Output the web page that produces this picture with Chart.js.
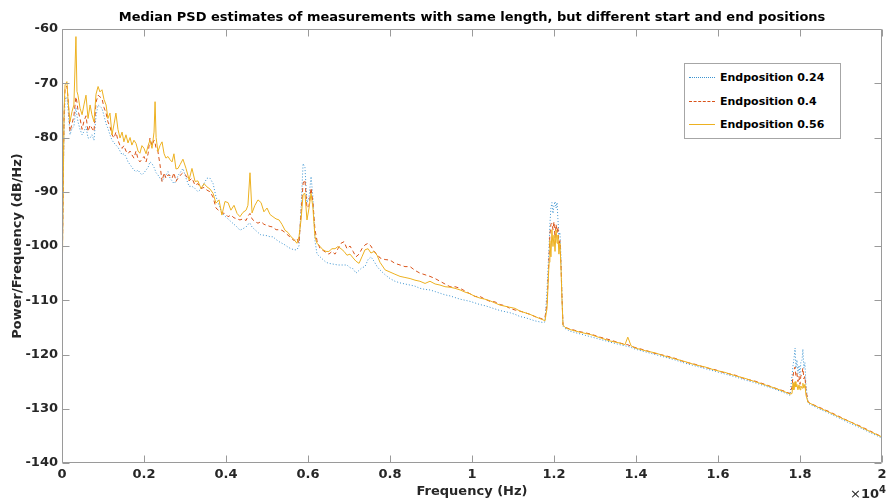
<!DOCTYPE html>
<html>
<head>
<meta charset="utf-8">
<script src="https://cdn.jsdelivr.net/npm/chart.js@4.4.1/dist/chart.umd.min.js"></script>
<style>
  html, body { margin: 0; padding: 0; background: #fff; }
  #wrap { position: relative; width: 888px; height: 504px; font-family: "DejaVu Sans", sans-serif; }
  #legend { position: absolute; left: 684px; top: 63px; width: 155px; height: 74px;
            border: 1px solid #a6a6a6; background: #fff; font-weight: bold; font-size: 11px; color: #000; }
  .row { position: absolute; left: 4px; height: 14px; display: flex; align-items: center; white-space: nowrap; }
  .smp { width: 26px; height: 0; margin-right: 5px; }
  #exp { position: absolute; left: 850px; top: 484px; font-size: 13px; color: #262626; }
  #exp b sup { font-size: 10px; }
</style>
</head>
<body>
<div id="wrap">
  <canvas id="grafico" width="888" height="504"></canvas>
  <div id="legend">
    <div class="row" style="top:6px"><span class="smp" style="border-top:1px dotted #3b93d0"></span>Endposition 0.24</div>
    <div class="row" style="top:30px"><span class="smp" style="border-top:1px dashed #D95319"></span>Endposition 0.4</div>
    <div class="row" style="top:53px"><span class="smp" style="border-top:1px solid #EDB120"></span>Endposition 0.56</div>
  </div>
  <div id="exp">&times;<b>10<sup>4</sup></b></div>
</div>
<script>
// frequencia (Hz)
const freq = [
  0, 50, 75, 120, 150, 195, 245, 290, 340, 365,
  390, 440, 490, 535, 585, 635, 685, 730, 780, 830,
  880, 925, 975, 1025, 1075, 1120, 1170, 1220, 1270, 1315,
  1365, 1415, 1465, 1510, 1560, 1610, 1660, 1705, 1755, 1805,
  1855, 1900, 1950, 2000, 2050, 2100, 2145, 2195, 2245, 2270,
  2295, 2340, 2390, 2440, 2490, 2535, 2585, 2635, 2685, 2730,
  2780, 2830, 2880, 2950, 3025, 3100, 3170, 3245, 3315, 3390,
  3465, 3535, 3610, 3685, 3755, 3830, 3900, 3975, 4050, 4120,
  4195, 4270, 4340, 4415, 4490, 4535, 4585, 4635, 4705, 4780,
  4855, 4925, 5000, 5075, 5145, 5220, 5295, 5365, 5440, 5510,
  5585, 5660, 5730, 5780, 5830, 5880, 5925, 5975, 6025, 6075,
  6120, 6170, 6220, 6295, 6365, 6440, 6510, 6585, 6660, 6730,
  6805, 6880, 6950, 7025, 7100, 7170, 7245, 7315, 7390, 7465,
  7535, 7610, 7685, 7755, 7880, 8000, 8120, 8245, 8365, 8490,
  8610, 8730, 8855, 8975, 9100, 9220, 9340, 9465, 9585, 9710,
  9830, 9950, 10075, 10195, 10315, 10440, 10560, 10685, 10805, 10925,
  11050, 11170, 11295, 11415, 11535, 11660, 11730, 11780, 11830, 11880,
  11900, 11925, 11950, 11975, 12000, 12025, 12050, 12075, 12095, 12120,
  12145, 12170, 12195, 12220, 12270, 12390, 12635, 12880, 13120, 13365,
  13610, 13730, 13800, 13880, 13975, 14220, 14465, 14710, 14950, 15195,
  15440, 15685, 15930, 16170, 16415, 16660, 16900, 17145, 17390, 17635,
  17755, 17805, 17830, 17850, 17880, 17900, 17925, 17950, 17975, 18000,
  18020, 18050, 18070, 18095, 18120, 18145, 18195, 18245, 18490, 18730,
  18975, 19220, 19465, 19710, 20000
];

// Endposition 0.24 (dB/Hz)
const psd024 = [
  -106, -78, -73, -72.5, -75, -79.5, -78.3, -78, -74.5, -76,
  -77.1, -78.5, -79.5, -78.9, -78, -80.1, -80.1, -79.5, -80.5, -76,
  -74, -74.3, -74.6, -76, -77.5, -78.3, -79.5, -80.5, -81, -81.4,
  -81.8, -82.5, -83.2, -83, -83.5, -84.5, -85, -85.5, -86, -86.3,
  -86, -86.5, -86.9, -86.5, -86, -85.5, -84.5, -84.8, -85.5, -86,
  -86.5, -86.9, -87.5, -88, -87.5, -87, -86.3, -87.5, -88, -88.5,
  -88.1, -87, -86.5, -85.7, -87.5, -89, -89, -89.4, -90, -89.5,
  -88.5, -87.5, -87.5, -88.5, -90.9, -92.5, -93.9, -94.5, -95, -95.5,
  -96, -96.5, -97.1, -96.8, -96.5, -96, -95.8, -96.5, -97, -97.5,
  -98, -98, -98.1, -98.3, -98.3, -98.8, -99.2, -99.5, -99.8, -100.2,
  -100.5, -100.7, -100.7, -100, -93, -84.8, -85.5, -92, -91, -87.2,
  -91, -99, -101.5, -102, -102.5, -103, -103.2, -103.3, -103.4, -103.5,
  -103.5, -103.5, -103.5, -104, -104.2, -105, -104.5, -104, -103.8, -102.5,
  -102, -102.8, -103.8, -104.4, -105.3, -106, -106.5, -106.8, -107, -107.2,
  -107.4, -107.8, -108, -108.1, -108.4, -108.7, -109, -109.2, -109.5, -109.8,
  -110, -110.2, -110.5, -110.8, -111, -111.3, -111.6, -111.9, -112.1, -112.3,
  -112.6, -113, -113.2, -113.5, -113.8, -114, -114.1, -114, -108, -100,
  -96, -93, -92, -94, -92.5, -91.8, -93, -92, -95, -98,
  -97.5, -102, -109, -114.8, -115.2, -115.7, -116.2, -116.7, -117.2, -117.7,
  -118.2, -118.4, -118.5, -118.7, -119, -119.5, -120, -120.5, -121, -121.6,
  -122.1, -122.6, -123.1, -123.6, -124.1, -124.7, -125.2, -125.8, -126.4, -127.1,
  -127.5, -124, -122, -121, -118.8, -122.5, -121, -123.5, -122, -123.8,
  -121.5, -121, -119, -122.5, -121.5, -125.5, -129, -129.2, -130.1, -130.9,
  -131.8, -132.7, -133.5, -134.4, -135.4
];

// Endposition 0.4
const psd04 = [
  -108, -76, -71, -70.5, -73, -78.9, -77.5, -76, -72.5, -73.5,
  -75, -76.5, -78.5, -77, -76, -78.9, -77.7, -78.3, -78.9, -73.5,
  -72.2, -72.5, -72.8, -74.5, -75.5, -77.1, -78, -79.5, -80.1, -79,
  -80.5, -81.5, -82, -81.5, -82.5, -83, -82.5, -83.2, -83.8, -82.5,
  -84, -84.5, -84, -83.5, -84.5, -83, -80.1, -81.5, -80.5, -81,
  -82, -82.6, -85, -88.1, -86.5, -87.5, -86.9, -87, -87.5, -86.5,
  -88.1, -87.5, -87, -86.5, -87, -88, -87.5, -88.8, -88.5, -89.4,
  -89.2, -89.7, -90, -91, -93, -93.5, -93.9, -94, -94.6, -94.3,
  -94.8, -95, -95.2, -95, -95.3, -94.5, -94, -95, -95.5, -95.8,
  -95.5, -96, -96.2, -96.4, -96.5, -97, -97, -97.1, -97.5, -98,
  -98.5, -99, -98.6, -99.5, -94, -88.5, -87.8, -93, -92.5, -89.3,
  -92, -97, -99, -100.5, -100.8, -101.2, -101.5, -101, -101.5, -100.5,
  -99.5, -99.2, -100.5, -100, -101, -102, -101.5, -100.5, -99.8, -99.5,
  -100, -101, -101.5, -102.2, -102.5, -102.6, -103.2, -103.5, -103.8, -103.8,
  -104.5, -105, -105.3, -105.6, -106, -106.5, -107, -107.5, -107.5, -107.8,
  -108.3, -108.8, -109.3, -109.3, -109.8, -110.2, -110.3, -110.8, -111, -111.5,
  -111.8, -112, -112.3, -112.6, -113, -113.3, -113.5, -113.2, -110.5, -102,
  -98, -96, -95.8, -97, -95.5, -98.5, -96, -97.5, -96.5, -100,
  -99, -103.5, -109.5, -114.5, -115, -115.3, -115.8, -116.2, -116.8, -117.3,
  -117.9, -118.1, -118.2, -118.5, -118.7, -119.2, -119.8, -120.2, -120.7, -121.4,
  -121.8, -122.4, -122.8, -123.4, -123.8, -124.5, -124.9, -125.5, -126.2, -126.8,
  -127.2, -126, -124, -123, -122.3, -124, -123.5, -125, -124, -125.5,
  -124, -123.5, -122.5, -124.5, -124, -126.5, -128.7, -129, -129.8, -130.6,
  -131.5, -132.4, -133.2, -134.1, -135.2
];

// Endposition 0.56
const psd056 = [
  -110, -75, -70.3, -69.7, -73.4, -77.1, -75.2, -74, -61.4, -71.5,
  -72.2, -74.6, -75.8, -74, -72.2, -76.5, -74, -75.8, -77.1, -72,
  -70.6, -71.6, -71.2, -73, -74, -76.5, -75.5, -79.5, -77.5, -75.5,
  -78.5, -80.1, -79, -80.8, -79.5, -81, -80, -81.4, -80.5, -81.1,
  -82.5, -82.9, -81.5, -82, -83, -81.5, -80.5, -82, -79, -73.4,
  -80, -82.6, -81.5, -80.8, -83, -83.8, -83.5, -84.1, -84.5, -83,
  -85.8, -85.7, -85, -84, -85.7, -87.8, -85.7, -88.1, -88, -89.4,
  -88.5, -89.1, -89.5, -90.3, -92.1, -91.5, -94.3, -91.8, -92, -93.4,
  -92.5, -94, -94.6, -93.8, -93.4, -92.5, -86.5, -93.9, -92.5, -91.5,
  -92, -93.7, -93, -94.2, -94.6, -95, -95.2, -96, -97.1, -97.5,
  -98.3, -98.8, -99.5, -98.3, -95.2, -90.5, -90.3, -95.2, -93, -90.3,
  -93, -98.3, -99.5, -100.1, -100.7, -101, -101, -100.5, -100.5, -100.1,
  -100.5, -101, -101.7, -101.5, -102.2, -102.8, -103.2, -102, -100.7, -100.5,
  -101.3, -101, -101.7, -103, -104.4, -104.8, -105.2, -105.6, -105.8, -106,
  -106.3, -106.5, -106.9, -106.5, -107, -107.2, -107.5, -107.6, -107.8, -108.1,
  -108.5, -108.8, -109.3, -109.6, -109.8, -110.1, -110.5, -110.9, -111.1, -111.3,
  -111.5, -112, -112.3, -112.6, -113, -113.4, -113.6, -113.8, -111.5, -103,
  -99, -102, -97, -100.1, -98, -101, -97, -99.5, -98, -101.5,
  -99.5, -104, -110, -114.6, -115, -115.4, -115.9, -116.3, -116.9, -117.5,
  -117.9, -118.2, -116.8, -118.4, -118.8, -119.3, -119.7, -120.3, -120.8, -121.3,
  -121.9, -122.3, -122.9, -123.3, -123.9, -124.4, -125, -125.6, -126.2, -126.9,
  -127.3, -127.2, -125.2, -126.5, -125, -126, -125.5, -126.5, -125.6, -126.5,
  -125.8, -126.2, -125.3, -126.2, -125.5, -127.5, -128.8, -129, -129.9, -130.7,
  -131.6, -132.4, -133.3, -134.2, -135.2
];

const xTicks = ['0', '0.2', '0.4', '0.6', '0.8', '1', '1.2', '1.4', '1.6', '1.8', '2'];

function pontos(vals) {
  return freq.map((f, i) => ({ x: f, y: vals[i] }));
}

// caixa com marcas para dentro, estilo MATLAB
const caixa = {
  id: 'caixa',
  afterDatasetsDraw(chart) {
    const { ctx, chartArea: a, scales: { x, y } } = chart;
    const t = 7;
    ctx.save();
    ctx.strokeStyle = '#9a9a9a';
    ctx.lineWidth = 1;
    ctx.beginPath();
    const L = Math.round(a.left) + 0.5, R = Math.round(a.right) - 0.5;
    const T = Math.round(a.top) + 0.5, B = Math.round(a.bottom) - 0.5;
    ctx.rect(L, T, R - L, B - T);
    x.ticks.forEach(tk => {
      const px = Math.round(x.getPixelForValue(tk.value)) + 0.5;
      ctx.moveTo(px, B); ctx.lineTo(px, B - t);
      ctx.moveTo(px, T); ctx.lineTo(px, T + t);
    });
    y.ticks.forEach(tk => {
      const py = Math.round(y.getPixelForValue(tk.value)) + 0.5;
      ctx.moveTo(L, py); ctx.lineTo(L + t, py);
      ctx.moveTo(R, py); ctx.lineTo(R - t, py);
    });
    ctx.stroke();
    ctx.restore();
  }
};

const fonte = { family: 'DejaVu Sans', size: 13, weight: 'bold' };

new Chart(document.getElementById('grafico').getContext('2d'), {
  type: 'line',
  data: {
    datasets: [
      { label: 'Endposition 0.24', data: pontos(psd024), borderColor: '#3b93d0',
        borderWidth: 1, borderDash: [1, 2], pointRadius: 0, order: 2 },
      { label: 'Endposition 0.4', data: pontos(psd04), borderColor: '#D95319',
        borderWidth: 1, borderDash: [4, 3], pointRadius: 0, order: 1 },
      { label: 'Endposition 0.56', data: pontos(psd056), borderColor: '#EDB120',
        borderWidth: 1, pointRadius: 0, order: 0 }
    ]
  },
  options: {
    responsive: false,
    animation: false,
    devicePixelRatio: 1,
    layout: { padding: { top: 0, right: 6, bottom: 0, left: 0 } },
    plugins: {
      legend: { display: false },
      tooltip: { enabled: false },
      title: {
        display: true,
        fullSize: false,
        text: 'Median PSD estimates of measurements with same length, but different start and end positions',
        font: { family: 'DejaVu Sans', size: 13, weight: 'bold' },
        color: '#000',
        padding: { top: 10, bottom: 3.4 }
      }
    },
    scales: {
      x: {
        type: 'linear',
        min: 0, max: 20000,
        afterFit(s) { s.height = 41; s.paddingLeft = 0; s.paddingRight = 0; },
        afterBuildTicks(s) { s.ticks = xTicks.map((_, i) => ({ value: i * 2000 })); },
        grid: { display: false, drawTicks: false, tickLength: 0 },
        border: { display: false },
        ticks: {
          font: fonte, color: '#262626', padding: 4, maxRotation: 0, autoSkip: false,
          callback: (v, i) => xTicks[i]
        },
        title: {
          display: true, text: 'Frequency (Hz)',
          font: { family: 'DejaVu Sans', size: 13, weight: 'bold' }, color: '#262626',
          padding: { top: 0, bottom: 5 }
        }
      },
      y: {
        min: -140, max: -60,
        afterFit(s) { s.width = 62; s.paddingTop = 0; s.paddingBottom = 0; },
        grid: { display: false, drawTicks: false, tickLength: 0 },
        border: { display: false },
        ticks: { font: fonte, color: '#262626', padding: 4, stepSize: 10 },
        title: {
          display: true, text: 'Power/Frequency (dB/Hz)',
          font: { family: 'DejaVu Sans', size: 13, weight: 'bold' }, color: '#262626',
          padding: { top: 10, bottom: 0 }
        }
      }
    }
  },
  plugins: [caixa]
});
</script>
</body>
</html>
